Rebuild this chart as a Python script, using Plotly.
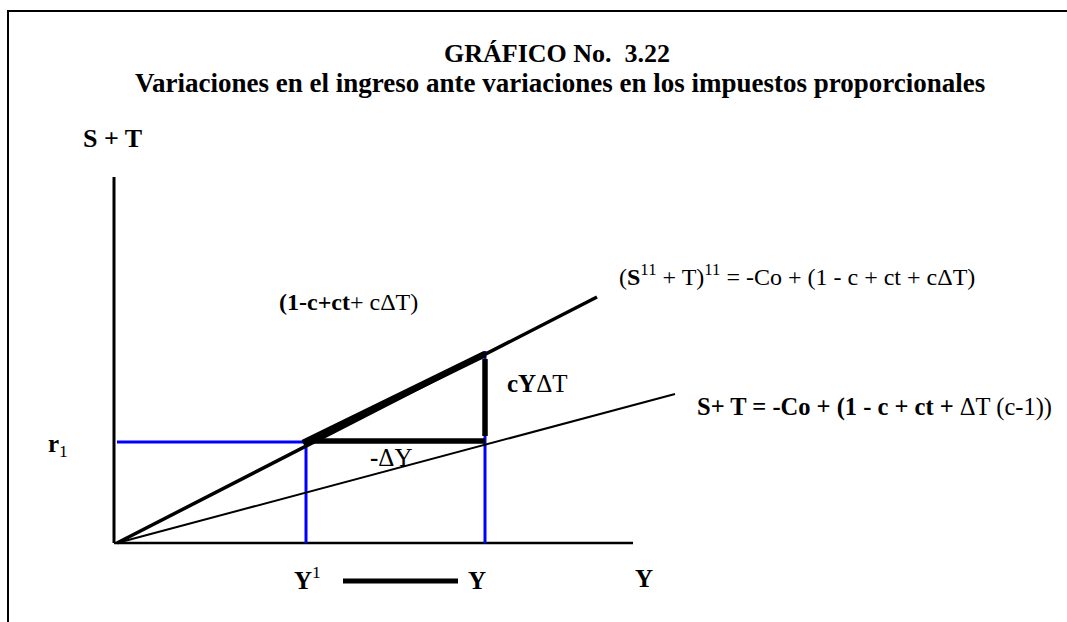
import plotly.graph_objects as go

W, H = 1067, 622

# ---- data (model units) ----
axis_x = [-3, 516]            # horizontal axis extent
axis_y = [0, 366]             # vertical axis extent
upper_line_x = [0, 480]
upper_line_y = [0, 246]
lower_line_x = [0, 558]
lower_line_y = [0, 149]
thick_seg_x = [186, 368]
thick_seg_y = [100, 189]
Y1 = 189
Y0 = 368
r1 = 101
blue_top_Y0 = 192
dy_x = [189, 368]
dy_y = [102, 102]
dt_x = [368, 368]
dt_y = [107, 184]
legend_dash_x = [226, 341]
legend_dash_y = [-38, -38]

FONT = "Liberation Serif"

fig = go.Figure()

def line(x, y, color="black", width=2):
    fig.add_trace(go.Scatter(x=x, y=y, mode="lines",
                             line=dict(color=color, width=width),
                             hoverinfo="skip", showlegend=False))

# axes
line([axis_x[0], axis_x[0]], axis_y, width=3)
line(axis_x, [0, 0], width=2.5)
# blue guides
line([0, Y1], [r1, r1], color="#0000FF", width=3)
line([Y1, Y1], [0, r1], color="#0000FF", width=3)
line([Y0, Y0], [0, blue_top_Y0], color="#0000FF", width=3)
# functions
line(lower_line_x, lower_line_y, width=2)
line(upper_line_x, upper_line_y, width=3.5)
line(thick_seg_x, thick_seg_y, width=6.5)
# triangle legs
line(dy_x, dy_y, width=5.5)
line(dt_x, dt_y, width=5.5)
# dash between Y1 and Y
line(legend_dash_x, legend_dash_y, width=5)

def label(x, y, text, size=25, xanchor="left"):
    fig.add_annotation(x=x, y=y, text=text, showarrow=False,
                       xanchor=xanchor, yanchor="middle",
                       font=dict(family=FONT, size=size, color="black"))

label(-5, 405, "<b>S + T</b>", size=26, xanchor="center")
label(160, 241, "<b>(1-c+ct</b>+ cΔT)", size=24)
label(500, 268, "(<b>S</b><sup>11</sup> + T)<sup>11</sup> = -Co + (1 - c + ct + cΔT)", size=24)
label(578, 136, "<b>S+ T = -Co + (1 - c + ct +</b> ΔT (c-1))", size=24.5)
label(388, 160, "<b>cY</b>ΔT", size=25)
label(251, 86, "<b>-</b>ΔY", size=25)
label(-71, 98, "<b>r</b><sub>1</sub>", size=25)
label(175, -35, "<b>Y</b><sup>1</sup>", size=25)
label(349, -37, "<b>Y</b>", size=25)
label(516, -35, "<b>Y</b>", size=25)

# title
fig.add_annotation(x=556.5 / W, y=1 - 53 / H, xref="paper", yref="paper",
                   text="<b>GRÁFICO No.  3.22</b>", showarrow=False,
                   xanchor="center", yanchor="middle",
                   font=dict(family=FONT, size=26, color="black"))
fig.add_annotation(x=559.5 / W, y=1 - 83 / H, xref="paper", yref="paper",
                   text="<b>Variaciones en el ingreso ante variaciones en los impuestos proporcionales</b>",
                   showarrow=False, xanchor="center", yanchor="middle",
                   font=dict(family=FONT, size=27, color="black"))

# outer frame
fig.add_shape(type="rect", xref="paper", yref="paper",
              x0=8 / W, y0=-0.05, x1=1.05, y1=1 - 11 / H,
              line=dict(color="black", width=2))

ox, oy = 117, 543
fig.update_xaxes(range=[-ox, W - ox], visible=False, fixedrange=True)
fig.update_yaxes(range=[oy - H, oy], visible=False, fixedrange=True)
fig.update_layout(width=W, height=H, margin=dict(l=0, r=0, t=0, b=0),
                  paper_bgcolor="white", plot_bgcolor="white",
                  showlegend=False)

fig.write_html("out.html", config={"displayModeBar": False},
               post_script="document.body.style.margin='0';")
